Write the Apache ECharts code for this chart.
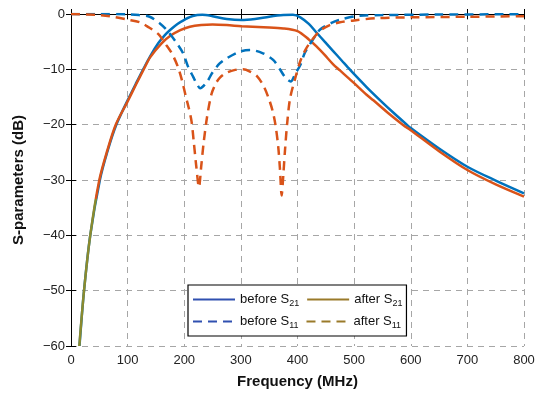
<!DOCTYPE html>
<html><head><meta charset="utf-8">
<script src="https://cdn.jsdelivr.net/npm/echarts@6/dist/echarts.min.js"></script>
<style>html,body{margin:0;padding:0;background:#fff}#c{width:550px;height:396px}</style>
</head><body><div id="c"></div>
<script>
// Frequency (MHz), dB pairs
var beforeS21 = [[15,-60],[23,-50],[34,-40],[51,-30],[65,-24.6],[80,-20],[100,-15.6],[115,-12.5],[127,-10.1],[140,-7.6],[154,-5.3],[165,-3.9],[175,-2.9],[188,-1.8],[201,-1.0],[215,-0.35],[232,-0.15],[250,-0.4],[275,-0.9],[301,-1.1],[325,-0.9],[350,-0.5],[375,-0.2],[392,-0.15],[405,-0.6],[420,-1.8],[434,-3.4],[448,-5],[463,-6.7],[478,-8.4],[493,-10.1],[522,-13.2],[546,-15.6],[570,-17.9],[593,-20],[600,-20.6],[650,-24.3],[700,-27.6],[750,-30.1],[800,-32.4]];
var afterS21 = [[14.7,-60],[23,-50],[34,-40],[50,-30],[64,-24.7],[79,-20],[100,-15.8],[115,-12.7],[127,-10.3],[140,-7.8],[160,-5.3],[176,-3.9],[193,-2.9],[210,-2.3],[230,-2.0],[250,-1.9],[275,-2.0],[301,-2.2],[340,-2.4],[375,-2.6],[400,-3.1],[420,-4.6],[434,-5.9],[448,-7.4],[463,-9.1],[475,-10.2],[500,-12.5],[522,-14.6],[534,-15.6],[560,-17.9],[587,-20.1],[600,-21],[650,-24.8],[700,-28.2],[750,-30.8],[800,-33]];
var beforeS11 = [[0,0],[50,0],[99,-0.05],[120,-0.2],[139,-0.5],[157,-1.7],[169,-2.9],[187,-5.3],[198,-7.1],[207,-9.6],[216,-11.4],[222,-12.6],[228,-13.4],[240,-12.3],[249,-10.7],[263,-8.9],[275,-8],[298,-6.8],[316,-6.5],[339,-7.1],[357,-8.3],[369,-10],[378,-11.4],[388,-12.2],[396,-10.8],[405,-9.2],[413,-7],[428,-4.5],[440,-2.8],[460,-1.6],[480,-0.9],[510,-0.3],[550,-0.2],[650,-0.1],[800,-0.05]];
var afterS11 = [[0,0],[51,-0.2],[69,-0.4],[99,-1.0],[122,-1.5],[134,-2.2],[154,-3.6],[166,-5.3],[178,-7.1],[189,-9.6],[196,-12],[203,-15],[208,-17],[213,-19.5],[217,-23.3],[221,-27.3],[226,-31.3],[230,-27.5],[234,-23.5],[240,-18.8],[248,-14.5],[256,-12.5],[263,-11.5],[275,-10.6],[290,-10.1],[304,-10],[316,-10.4],[328,-11.2],[340,-13],[349,-15.2],[356,-17.5],[361,-20],[366,-24],[369,-28],[372,-32.8],[375,-29],[378,-24.5],[382,-19.5],[387,-15.2],[396,-11.6],[405,-8.5],[415,-6.3],[425,-4.8],[440,-3],[457,-2],[475,-1.5],[497,-1.2],[540,-0.75],[600,-0.6],[700,-0.5],[800,-0.4]];
var seriesNames = ['before S21','after S21','before S11','after S11'];
var xTicks = {min:0, max:800, interval:100};
var yTicks = {min:-60, max:0, interval:10};
var oliveBelow = -33.4; // dB level below which the "after S21" trace looks olive in the reference

var blue = '#0072BD', orange = '#D95319', olive = '#8a8a2e';
var legBlue = '#3050b0', legOlive = '#9a7a2a';
var font = 'Liberation Sans, Arial, Helvetica, sans-serif';
function minus(v){ return v < 0 ? '\u2212' + (-v) : String(v); }
var chart = echarts.init(document.getElementById('c'));
var grid = {left:71, right:26, top:14, bottom:50};
var split = {show:true, lineStyle:{color:'#a6a6a6', type:[6,5], width:1}};
function line(name, data, color, dashed){
  return {name:name, type:'line', data:data, symbol:'none', showSymbol:false, smooth:0.3,
    lineStyle:{color:color, width:2.5, type: dashed ? [9,6] : 'solid'}, itemStyle:{color:color}, z: 3};
}
chart.setOption({
  animation:false,
  grid:grid,
  xAxis:[{type:'value', min:xTicks.min, max:xTicks.max, interval:xTicks.interval,
      name:'Frequency (MHz)', nameLocation:'middle', nameGap:28,
      nameTextStyle:{fontFamily:font, fontSize:15, fontWeight:'bold', color:'#111'},
      axisLine:{lineStyle:{color:'#000', width:1}}, axisTick:{inside:true, length:5, lineStyle:{color:'#000'}},
      axisLabel:{fontFamily:font, fontSize:13, color:'#222', margin:8}, splitLine:split},
    {type:'value', position:'top', min:xTicks.min, max:xTicks.max, interval:xTicks.interval,
      axisLine:{show:true, lineStyle:{color:'#000'}}, axisTick:{inside:true, length:5, lineStyle:{color:'#000'}},
      axisLabel:{show:false}, splitLine:{show:false}}],
  yAxis:[{type:'value', min:yTicks.min, max:yTicks.max, interval:yTicks.interval,
      name:'S-parameters (dB)', nameLocation:'middle', nameGap:45,
      nameTextStyle:{fontFamily:font, fontSize:15, fontWeight:'bold', color:'#111'},
      axisLine:{show:true, lineStyle:{color:'#000', width:1}}, axisTick:{show:true, inside:true, length:5, lineStyle:{color:'#000'}},
      axisLabel:{fontFamily:font, fontSize:13, color:'#222', margin:6, formatter:minus}, splitLine:split},
    {type:'value', position:'right', min:yTicks.min, max:yTicks.max, interval:yTicks.interval,
      axisLine:{show:true, lineStyle:{color:'#000'}}, axisTick:{show:true, inside:true, length:5, lineStyle:{color:'#000'}},
      axisLabel:{show:false}, splitLine:{show:false}}],
  legend:{data:[
      {name:seriesNames[0], lineStyle:{color:legBlue, width:2}},
      {name:seriesNames[1], lineStyle:{color:legOlive, width:2}},
      {name:seriesNames[2], lineStyle:{color:legBlue, width:2}},
      {name:seriesNames[3], lineStyle:{color:legOlive, width:2}}],
    left:188, top:285, width:214, orient:'horizontal',
    itemWidth:42, itemHeight:14, itemGap:7, padding:[8,4,6,4],
    itemStyle:{opacity:0},
    borderColor:'#000', borderWidth:1.2, backgroundColor:'#fff',
    textStyle:{fontFamily:font, fontSize:13, color:'#111', rich:{sub:{fontFamily:font, fontSize:9, color:'#111', padding:[8,0,0,0]}}},
    formatter:function(n){ return n.replace(/S(\d+)/, 'S{sub|$1}'); }},
  series:[line(seriesNames[0], beforeS21, blue, false),
          line(seriesNames[1], afterS21, orange, false),
          line(seriesNames[2], beforeS11, blue, true),
          line(seriesNames[3], afterS11, orange, true)]
});
var yCut = chart.convertToPixel({yAxisIndex:0}, oliveBelow);
chart.setOption({series:[{}, {lineStyle:{color:new echarts.graphic.LinearGradient(0, yCut - 0.5, 0, yCut + 0.5,
  [{offset:0, color:orange},{offset:1, color:olive}], true)}}]});
</script></body></html>
